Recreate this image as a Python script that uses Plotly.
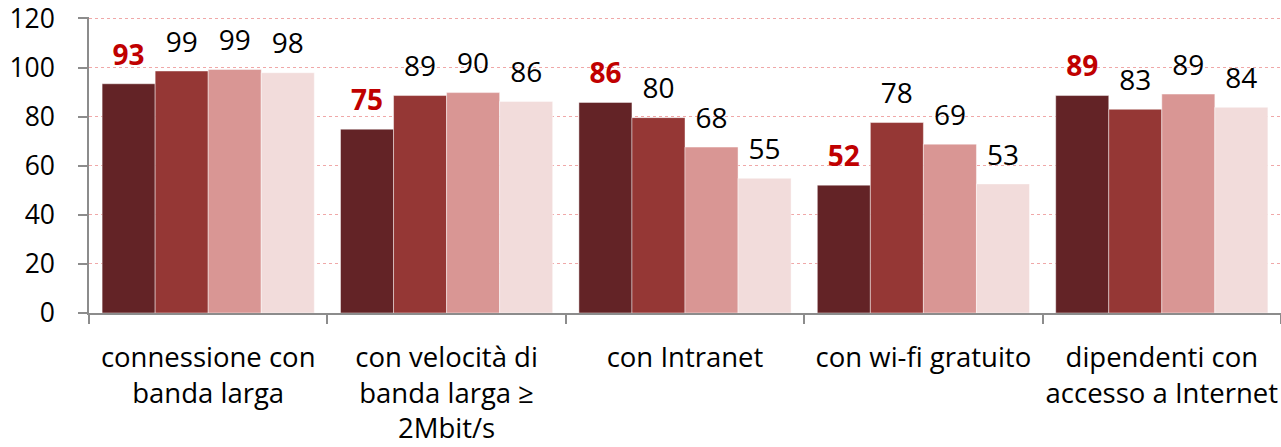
import plotly.graph_objects as go

categories = [
    "connessione con<br>banda larga",
    "con velocità di<br>banda larga ≥<br>2Mbit/s",
    "con Intranet",
    "con wi-fi gratuito",
    "dipendenti con<br>accesso a Internet",
]
series_names = ["Serie 1", "Serie 2", "Serie 3", "Serie 4"]
series_1 = [93.4, 74.9, 85.8, 52.1, 88.6]
series_2 = [98.6, 88.6, 79.6, 77.6, 83.0]
series_3 = [99.2, 89.8, 67.6, 68.8, 89.2]
series_4 = [97.9, 86.2, 54.9, 52.6, 83.8]
y_ticks = [0, 20, 40, 60, 80, 100, 120]

all_series = [series_1, series_2, series_3, series_4]
colors = ["#632326", "#953735", "#D99694", "#F2DCDB"]
label_colors = ["#C00000", "#000000", "#000000", "#000000"]
label_weights = ["bold", "normal", "normal", "normal"]
FONT = "Open Sans"

fig = go.Figure()
for name, vals, col in zip(series_names, all_series, colors):
    fig.add_trace(go.Bar(
        x=categories, y=vals, name=name,
        marker=dict(color=col, line=dict(color="rgba(255,255,255,0.45)", width=1)),
        offsetgroup=name,
        hoverinfo="skip",
    ))
for name, vals, lc, lw in zip(series_names, all_series, label_colors, label_weights):
    fig.add_trace(go.Scatter(
        x=categories, y=vals, mode="markers+text",
        text=[f"{v:.0f}" for v in vals],
        textposition="top center",
        textfont=dict(family=FONT, size=28, color=lc, weight=lw),
        marker=dict(size=18, opacity=0),
        offsetgroup=name,
        showlegend=False, hoverinfo="skip", cliponaxis=False,
    ))

fig.update_layout(
    width=1281, height=447,
    margin=dict(l=89, r=0, t=17, b=134, autoexpand=False),
    barmode="group", bargap=0.11, bargroupgap=0,
    scattermode="group", scattergap=0.11,
    plot_bgcolor="white", paper_bgcolor="white",
    showlegend=False,
    font=dict(family=FONT, size=25, color="#000000"),
)
fig.update_xaxes(
    showline=True, linecolor="#8C8C8C", linewidth=1.5,
    ticks="outside", ticklen=9, tickcolor="#8C8C8C", tickwidth=1.5,
    tickson="boundaries", showgrid=False,
    tickangle=0, automargin=False,
    tickfont=dict(family=FONT, size=27.5, color="#000000"),
    ticklabelstandoff=19,
)
fig.update_yaxes(
    range=[0, 120.6], tickvals=y_ticks,
    showline=True, linecolor="#8C8C8C", linewidth=1.5,
    ticks="outside", ticklen=9, tickcolor="#8C8C8C", tickwidth=1.5,
    showgrid=True, gridcolor="#F0A8A8", gridwidth=1, griddash="dot",
    zeroline=False, ticklabeloverflow="allow", automargin=False,
    tickfont=dict(family=FONT, size=26.5, color="#000000"),
    ticklabelstandoff=18,
)
fig.write_html(
    "out.html",
    config={"displayModeBar": False},
    post_script="document.body.style.margin='0px';",
)
